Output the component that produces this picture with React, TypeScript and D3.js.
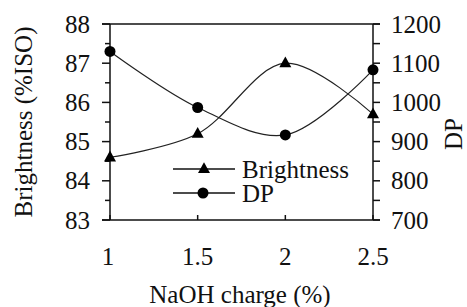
import React from "react";
import * as d3 from "d3";

const charges = [1, 1.5, 2, 2.5];
const brightness = [84.6, 85.2, 87.0, 85.7];
const dp = [1130, 987, 917, 1083];
const xTicks = [1, 1.5, 2, 2.5];
const leftTicks = [83, 84, 85, 86, 87, 88];
const rightTicks = [700, 800, 900, 1000, 1100, 1200];

const W = 467, H = 307;
const L = 110, R = 373, T = 24, B = 220;
const FS = 25;
const INK = "#111";
const FAM = '"Times New Roman", "Liberation Serif", "DejaVu Serif", serif';

function triangle(cx: number, cy: number, s: number) {
  const h = s * 0.9;
  return `M${cx},${cy - h * 0.62} L${cx + s / 2},${cy + h * 0.38} L${cx - s / 2},${cy + h * 0.38} Z`;
}

const ts: React.CSSProperties = { fontFamily: FAM, fontSize: FS };

function T2(props: any) {
  return <text fontFamily={FAM} fontSize={FS} style={ts} {...props} />;
}

export default function App() {
  const x = d3.scaleLinear().domain([1, 2.5]).range([L, R]);
  const yL = d3.scaleLinear().domain([83, 88]).range([B, T]);
  const yR = d3.scaleLinear().domain([700, 1200]).range([B, T]);

  const curve = d3.curveCatmullRom.alpha(0.5);
  const lineB = d3.line<number>().x((_, i) => x(charges[i])).y((d) => yL(d)).curve(curve);
  const lineD = d3.line<number>().x((_, i) => x(charges[i])).y((d) => yR(d)).curve(curve);

  const leftMinor = d3.range(83, 88.01, 0.5);
  const rightMinor = d3.range(700, 1200.1, 50);

  return (
    <svg width={W} height={H} style={{ position: "absolute", left: 0, top: 0, background: "#fff", fontFamily: FAM }} fill={INK}>
      <style>{`text { font-family: "Times New Roman", "Liberation Serif", "DejaVu Serif", serif; }`}</style>
      <rect x={0} y={0} width={W} height={H} fill="#fff" />
      <line x1={L - 8} x2={R + 7} y1={T} y2={T} stroke={INK} strokeWidth={1.5} />
      <line x1={L - 8} x2={R + 7} y1={B} y2={B} stroke={INK} strokeWidth={1.5} />
      <line x1={L} x2={L} y1={T} y2={B} stroke={INK} strokeWidth={1.5} />
      <line x1={R} x2={R} y1={T} y2={B} stroke={INK} strokeWidth={1.5} />
      {leftMinor.map((v) => {
        const major = Math.abs(v - Math.round(v)) < 1e-6;
        return <line key={"lt" + v} x1={L - (major ? 8 : 5)} x2={L} y1={yL(v)} y2={yL(v)} stroke={INK} strokeWidth={1.5} />;
      })}
      {rightMinor.map((v) => (
        <line key={"rt" + v} x1={R} x2={R + 7} y1={yR(v)} y2={yR(v)} stroke={INK} strokeWidth={1.5} />
      ))}
      {xTicks.map((v) => (
        <line key={"xt" + v} x1={x(v)} x2={x(v)} y1={B} y2={B - 5} stroke={INK} strokeWidth={1.5} />
      ))}
      {leftTicks.map((v) => (
        <T2 key={"ll" + v} x={L - 20} y={yL(v) + 8.5} textAnchor="end">{v}</T2>
      ))}
      {rightTicks.map((v) => (
        <T2 key={"rl" + v} x={R + 18} y={yR(v) + 8.5} textAnchor="start">{v}</T2>
      ))}
      {xTicks.map((v) => (
        <T2 key={"xl" + v} x={x(v) - (v === 1 ? 2 : 0)} y={265} textAnchor="middle">{v}</T2>
      ))}
      <T2 x={240} y={303} textAnchor="middle">NaOH charge (%)</T2>
      <T2 transform={`translate(32,122) rotate(-90)`} textAnchor="middle">Brightness (%ISO)</T2>
      <T2 transform={`translate(462,134) rotate(-90)`} textAnchor="middle">DP</T2>
      <path d={lineB(brightness) || ""} fill="none" stroke="#222" strokeWidth={1.2} />
      <path d={lineD(dp) || ""} fill="none" stroke="#222" strokeWidth={1.2} />
      {brightness.map((v, i) => (
        <path key={"bm" + i} d={triangle(x(charges[i]), yL(v), 12)} fill="#000" />
      ))}
      {dp.map((v, i) => (
        <circle key={"dm" + i} cx={x(charges[i])} cy={yR(v)} r={5.5} fill="#000" />
      ))}
      <line x1={173} x2={235} y1={169} y2={169} stroke={INK} strokeWidth={1.5} />
      <path d={triangle(204, 169, 12)} fill="#000" />
      <T2 x={242} y={177.5}>Brightness</T2>
      <line x1={173} x2={235} y1={193} y2={193} stroke={INK} strokeWidth={1.5} />
      <circle cx={203} cy={193} r={5.5} fill="#000" />
      <T2 x={242} y={201.5}>DP</T2>
    </svg>
  );
}
